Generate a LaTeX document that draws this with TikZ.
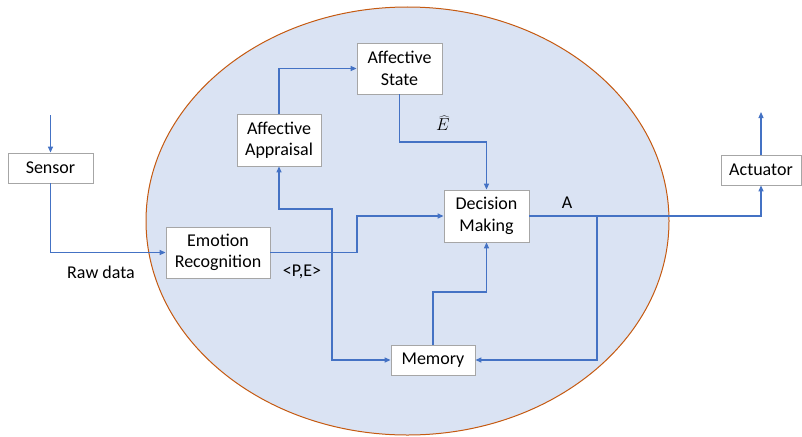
\documentclass[tikz,border=0pt]{standalone}
\usepackage{fontspec}
\setmainfont{Carlito}
\usetikzlibrary{arrows.meta}
\definecolor{lineblue}{HTML}{4472C4}
\definecolor{ellfill}{HTML}{DAE3F3}
\definecolor{ellline}{HTML}{C55A11}
\definecolor{boxline}{HTML}{A6A6A6}
\tikzset{
  box/.style={draw=boxline, fill=white, line width=0.8pt, align=center, inner sep=0pt,
    font=\fontsize{18}{21.5}\selectfont},
  conn/.style={draw=lineblue, line width=1.2pt, -{Triangle[length=6pt,width=5pt]}},
  lbl/.style={font=\fontsize{18}{21.5}\selectfont, inner sep=0pt}
}
\begin{document}
\begin{tikzpicture}[x=1pt,y=-1pt]
\useasboundingbox (0,0) rectangle (802,436);
\filldraw[fill=ellfill, draw=ellline, line width=1pt] (407.5,221) ellipse [x radius=261.5, y radius=214];

\node[box, minimum width=85, minimum height=30] (sen) at (50.5,168) {Sensor};
\node[box, minimum width=104, minimum height=51] (emo) at (218,252.5) {Emotion\\Recognition};
\node[box, minimum width=84, minimum height=52] (app) at (279,140) {Affective\\Appraisal};
\node[box, minimum width=85, minimum height=51] (st) at (399.5,68.5) {Affective\\State};
\node[box, minimum width=85, minimum height=52] (dec) at (486.5,216) {Decision\\Making};
\node[box, minimum width=84, minimum height=30] (mem) at (433,360) {Memory};
\node[box, minimum width=80, minimum height=30] (act) at (761,170) {Actuator};

\coordinate (sin) at (50.5,115);
\coordinate (aout) at (761,112);
\coordinate (c1) at (357,234);
\coordinate (c2) at (332,209);
\coordinate (c3) at (440,142);
\coordinate (c4) at (460,292);
\coordinate (br) at (597,216);

\draw[conn] (sin) -- (sen.north);
\draw[conn] (sen.south) |- (emo.west);
\draw[conn] (emo.east) -| (c1) |- (dec.west);
\draw[conn, {Triangle[length=6pt,width=5pt]}-{Triangle[length=6pt,width=5pt]}] (app.south) |- (c2) |- (mem.west);
\draw[conn] (app.north) |- (st.west);
\draw[conn] (st.south) |- (c3) -| (dec.north);
\draw[conn] (dec.east) -| (act.south);
\draw[conn] (act.north) -- (aout);
\draw[conn] (br) |- (mem.east);
\draw[conn] (mem.north) |- (c4) -| (dec.south);

\node[lbl] (raw) at (101,272) {Raw data};
\node[lbl] (pe) at (302,272) {<P,E>};
\node[lbl] (a) at (567,203) {A};
\node[font=\fontsize{19}{22}\selectfont, inner sep=0pt] (eh) at (443,123) {$\widehat{E}$};
\end{tikzpicture}
\end{document}
